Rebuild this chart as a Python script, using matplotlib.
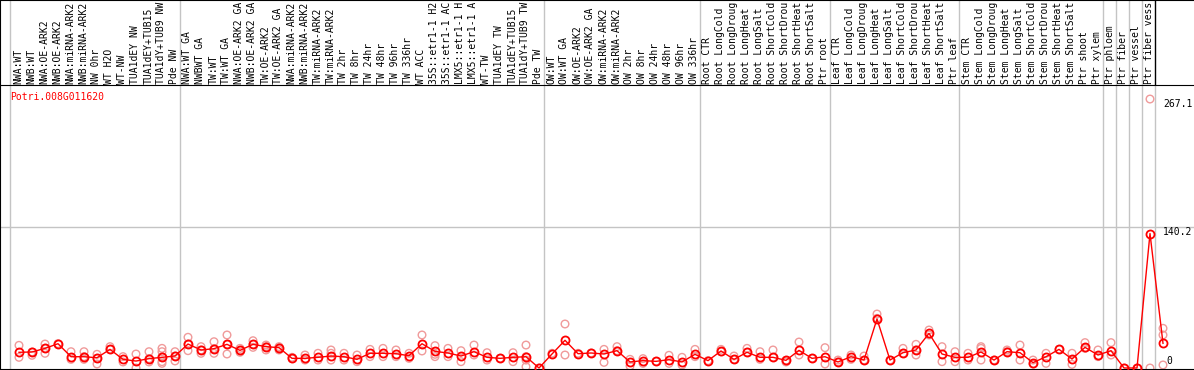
import matplotlib
matplotlib.use("Agg")
import matplotlib.pyplot as plt

# ---------------- data ----------------
gene_id = "Potri.008G011620"

samples = [
    "NWA:WT", "NWB:WT", "NWA:OE-ARK2", "NWB:OE-ARK2", "NWA:miRNA-ARK2", "NWB:miRNA-ARK2",
    "NW 0hr", "WT H2O", "WT-NW", "TUA1dEY NW", "TUA1dEY+TUB15", "TUA1dY+TUB9 NW", "Pde NW",
    "NWA:WT GA", "NWBWT GA", "TW:WT", "TW:WT GA", "NWA:OE-ARK2 GA", "NWB:OE-ARK2 GA",
    "TW:OE-ARK2", "TW:OE-ARK2 GA", "NWA:miRNA-ARK2", "NWB:miRNA-ARK2", "TW:miRNA-ARK2",
    "TW:miRNA-ARK2", "TW 2hr", "TW 8hr", "TW 24hr", "TW 48hr", "TW 96hr", "TW 336hr",
    "WT ACC", "35S::etr1-1 H2", "35S::etr1-1 AC", "LMX5::etr1-1 H", "LMX5::etr1-1 A",
    "WT-TW", "TUA1dEY TW", "TUA1dEY+TUB15", "TUA1dY+TUB9 TW", "Pde TW",
    "OW:WT", "OW:WT GA", "OW:OE-ARK2", "OW:OE-ARK2 GA", "OW:miRNA-ARK2", "OW:miRNA-ARK2",
    "OW 2hr", "OW 8hr", "OW 24hr", "OW 48hr", "OW 96hr", "OW 336hr",
    "Root CTR", "Root LongCold", "Root LongDroug", "Root LongHeat", "Root LongSalt",
    "Root ShortCold", "Root ShortDrou", "Root ShortHeat", "Root ShortSalt", "Ptr root",
    "Leaf CTR", "Leaf LongCold", "Leaf LongDroug", "Leaf LongHeat", "Leaf LongSalt",
    "Leaf ShortCold", "Leaf ShortDrou", "Leaf ShortHeat", "Leaf ShortSalt", "Ptr leaf",
    "Stem CTR", "Stem LongCold", "Stem LongDroug", "Stem LongHeat", "Stem LongSalt",
    "Stem ShortCold", "Stem ShortDrou", "Stem ShortHeat", "Stem ShortSalt", "Ptr shoot",
    "Ptr xylem", "Ptr phloem", "Ptr fiber", "Ptr vessel", "Ptr fiber vess",
]

mean_values = [
    15.6, 15.9, 19.5, 24.1, 11.2, 11.2, 10.2, 18.5, 8.6, 6.9, 9.3, 10.6, 11.9,
    23.8, 17.9, 19.2, 23.5, 17.5, 23.5, 21.2, 20.2, 9.6, 9.6, 10.6, 11.9, 11.2, 8.6,
    14.6, 14.6, 14.2, 12.2, 24.1, 16.5, 14.9, 11.9, 16.2, 10.6, 9.6, 10.6, 11.2, 0.0,
    13.9, 27.5, 14.2, 14.9, 13.9, 17.2, 6.0, 7.3, 6.6, 8.3, 6.0, 13.6,
    7.3, 16.9, 8.6, 15.6, 10.6, 10.6, 7.6, 17.5, 9.6, 11.2,
    6.0, 11.2, 7.9, 48.7, 7.9, 15.2, 17.9, 34.4, 13.9, 10.6,
    10.6, 15.9, 7.9, 16.2, 15.2, 5.3, 11.2, 18.5, 8.9, 20.5, 12.9,
    17.2, 0.0, 0.0, 133.55, 24.5,
]

replicate_values = [
    [22.5, 10.6], [15.9, 12.6], [23.8, 19.5, 14.6], [24.2], [16.2, 8.6], [16.2, 11.3, 8.6],
    [13.6, 9.6, 4.0], [21.2, 18.5], [11.3, 6.0], [13.9, 0.0], [16.2, 9.3, 6.0],
    [19.5, 16.2, 11.3, 6.3, 4.6], [16.2, 11.9, 7.0],
    [30.5, 23.8, 17.2], [21.2, 17.9, 14.6], [26.1, 19.2, 14.6], [32.8, 23.5, 13.9],
    [19.5, 17.5, 15.6], [27.1, 23.5, 20.5], [22.8, 21.2, 17.9], [21.2, 20.2, 17.9],
    [10.6, 9.3], [12.9, 7.9], [14.6, 7.9], [17.9, 14.6, 7.9], [14.6, 7.9], [12.9, 6.3],
    [18.5, 11.3], [19.5, 11.3], [17.9, 11.3], [14.6, 9.6], [32.8, 16.9],
    [22.2, 13.6, 11.3], [19.5, 11.3], [17.2, 6.3], [22.8, 12.9], [15.2, 7.9], [9.6],
    [15.2, 6.3], [22.8, 11.3, 7.9, 1.3], [0.0],
    [14.6], [43.7, 12.9], [14.6], [14.9], [18.5, 5.6], [21.2, 17.2], [8.6, 2.0],
    [9.3, 4.6], [6.6], [12.6, 4.6], [10.6, 3.0], [18.5, 11.3],
    [7.3], [18.5, 16.2], [11.9, 8.6], [19.5, 15.6], [16.2, 8.6], [17.9, 10.6],
    [7.6, 6.0], [25.8, 12.9], [9.6], [20.2, 4.0],
    [7.9, 6.0], [12.9, 8.6], [11.9, 7.9], [53.6, 49.3], [7.9], [19.5, 14.6],
    [23.5, 17.9, 12.9], [37.7, 32.8], [21.2, 6.3], [16.2, 6.3],
    [14.6, 7.9], [21.2, 19.5, 7.9], [7.9], [17.9, 16.2], [22.8, 7.9], [7.9, 4.0],
    [14.6, 4.6], [18.5], [14.6, 3.6], [25.2, 19.5], [17.9, 11.3],
    [25.2, 12.9], [0.0], [0.0], [267.1, 0.0], [39.4, 32.8, 3.0],
]

group_boundaries = [0, 13, 41, 53, 63, 73, 84, 85, 86, 87, 88]
axis_marks = [267.1, 140.2, 0]

# ---------------- layout ----------------
W, H = 1194, 370
HEADER = 85
BOTTOM = 369         # px (from top) of the data-area bottom line
STEP = 13.0          # px per sample
FIRST = 19.0         # px of first sample centre
ZERO_PX = 368.0      # px (from top) of value 0
PX_PER_UNIT = 1.007

RED = "#ff0000"
PALE = "#f09a9a"
GRID = "#c4c4c4"
FONT = "DejaVu Sans Mono"
FS = 7.0

fig = plt.figure(figsize=(W / 100, H / 100), dpi=100)

ax = fig.add_axes([0, (H - BOTTOM) / H, 1, (BOTTOM - HEADER) / H])
hx = fig.add_axes([0, (H - HEADER) / H, 1, HEADER / H])

xlim = (-FIRST / STEP, (W - FIRST) / STEP)
for a in (ax, hx):
    a.set_xlim(*xlim)
    a.set_xticks([])
    a.set_yticks([])
    a.set_facecolor("none")

ax.set_ylim(-(BOTTOM - ZERO_PX) / PX_PER_UNIT, (ZERO_PX - HEADER) / PX_PER_UNIT)
hx.set_ylim(0, HEADER)

for s in ("top", "right"):
    ax.spines[s].set_visible(False)
for s in ("left", "bottom"):
    ax.spines[s].set_color("black")
    ax.spines[s].set_linewidth(0.8)
hx.spines["right"].set_visible(False)
for s in ("left", "top", "bottom"):
    hx.spines[s].set_color("black")
    hx.spines[s].set_linewidth(0.8)

# group separators
sep_off = (FIRST - 10.5) / STEP
for k in group_boundaries:
    xs = k - sep_off
    ax.axvline(xs, color=GRID, lw=1.0, zorder=1)
    hx.axvline(xs, color=("black" if k == group_boundaries[-1] else GRID), lw=1.0, zorder=1)

# horizontal grid line at middle mark
ax.axhline(axis_marks[1], color=GRID, lw=1.0, zorder=1)

# replicates
rx, ry = [], []
for i, reps in enumerate(replicate_values):
    for v in reps:
        rx.append(i)
        ry.append(v)
ax.scatter(rx, ry, s=30, facecolors="none", edgecolors=PALE, linewidths=1.0, zorder=2)

# means
xs = list(range(len(mean_values)))
ax.plot(xs, mean_values, color=RED, lw=1.0, zorder=3)
ax.plot(xs, mean_values, ls="none", marker="o", ms=5.8, mfc="none", mec=RED, mew=1.3, zorder=4)

# gene id
ax.text((10 - FIRST) / STEP, (ZERO_PX - 97) / PX_PER_UNIT, gene_id, color=RED,
        fontsize=FS, family=FONT, ha="left", va="center")

# right-side value labels
lab_x = (1163 - FIRST) / STEP
ax.text(lab_x, axis_marks[0], "267.1", fontsize=FS, family=FONT, ha="left", va="top")
ax.text(lab_x, axis_marks[1], "140.2", fontsize=FS, family=FONT, ha="left", va="top")
ax.text((1166 - FIRST) / STEP, axis_marks[2] + 2, "0", fontsize=FS, family=FONT,
        ha="left", va="bottom")

# rotated sample labels
for i, name in enumerate(samples):
    hx.text(i - 0.05, 1.5, name, rotation=90, fontsize=FS, family=FONT,
            ha="center", va="bottom")

fig.savefig("out.png", dpi=100)
